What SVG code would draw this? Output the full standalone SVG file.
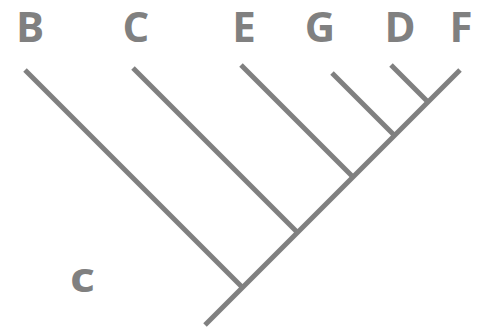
<svg xmlns="http://www.w3.org/2000/svg" width="484" height="334" viewBox="0 0 484 334">
<style>
.lbl{font-family:"Open Sans","DejaVu Sans",sans-serif;font-weight:700;font-size:42px;fill:#808080}
.br{stroke:#808080;stroke-width:5;fill:none;stroke-linecap:butt}
</style>
<rect width="484" height="334" fill="#ffffff"/>
<g id="connectors">
<line class="br" x1="205" y1="325" x2="460" y2="70"/>
<line class="br" x1="25" y1="70" x2="242.5" y2="287.5"/>
<line class="br" x1="133" y1="68" x2="297.5" y2="232.5"/>
<line class="br" x1="241" y1="65" x2="353" y2="177"/>
<line class="br" x1="332" y1="73" x2="394.5" y2="135.5"/>
<line class="br" x1="391" y1="65" x2="428" y2="102"/>
</g>
<g id="node-B"><text class="lbl" x="30" y="42" text-anchor="middle">B</text></g>
<g id="node-C"><text class="lbl" x="136" y="42" text-anchor="middle">C</text></g>
<g id="node-E"><text class="lbl" x="244" y="42" text-anchor="middle">E</text></g>
<g id="node-G"><text class="lbl" x="320" y="42" text-anchor="middle">G</text></g>
<g id="node-D"><text class="lbl" x="400" y="42" text-anchor="middle">D</text></g>
<g id="node-F"><text class="lbl" x="461" y="42" text-anchor="middle">F</text></g>
<g id="label-c"><text class="lbl" x="70" y="292" font-size="44" textLength="25" lengthAdjust="spacingAndGlyphs">c</text></g>
</svg>
